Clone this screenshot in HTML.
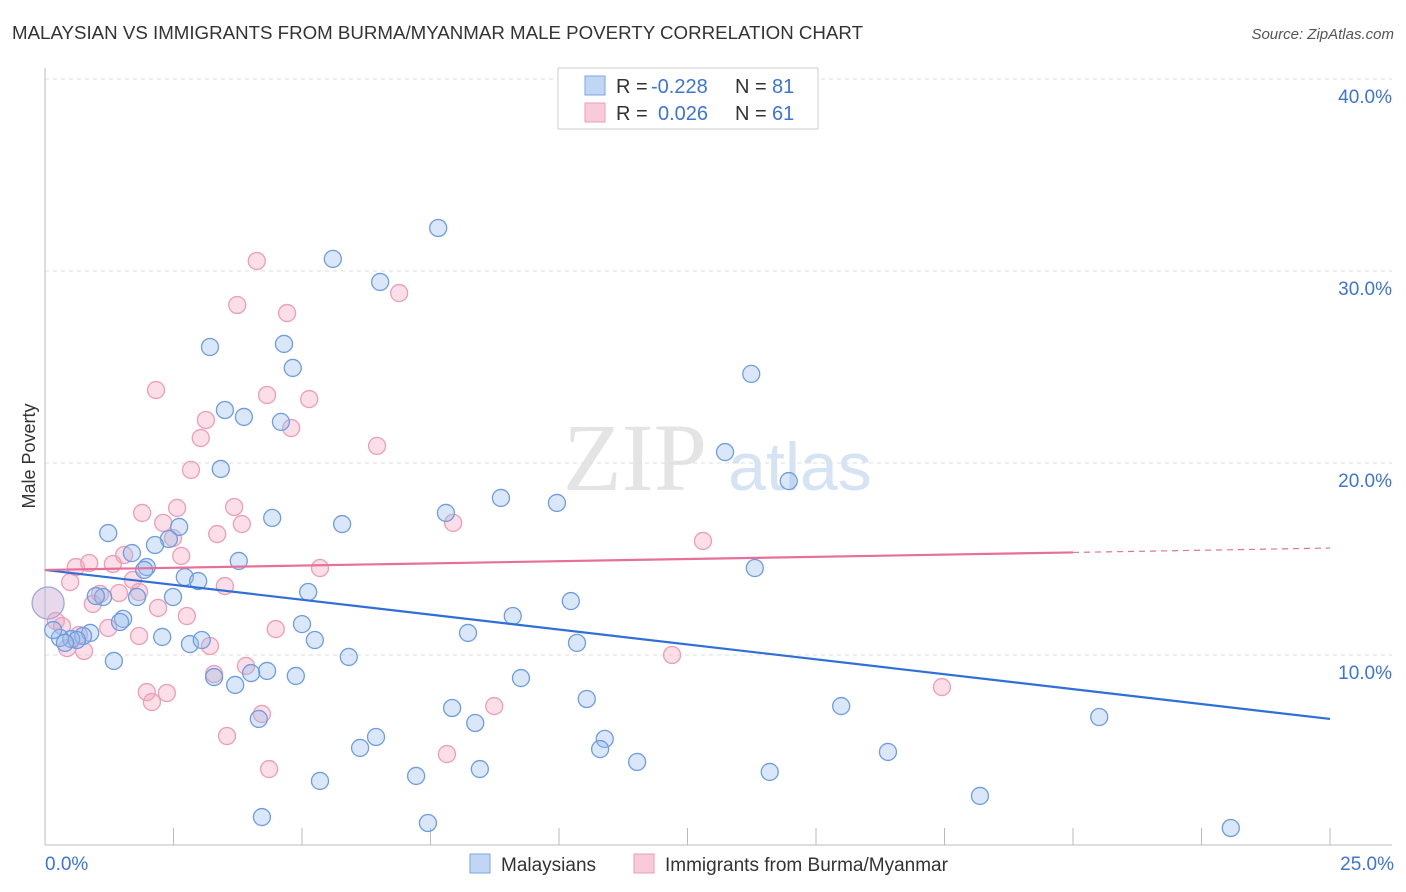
<!DOCTYPE html>
<html><head><meta charset="utf-8"><style>
body{margin:0;background:#fff;font-family:"Liberation Sans",sans-serif}
svg{display:block}
</style></head><body>
<svg id="c" width="1406" height="892" xmlns="http://www.w3.org/2000/svg">
<text x="12" y="39" font-size="18" fill="#333" textLength="851" lengthAdjust="spacingAndGlyphs">MALAYSIAN VS IMMIGRANTS FROM BURMA/MYANMAR MALE POVERTY CORRELATION CHART</text>
<text x="1394" y="39" font-size="15" fill="#555" font-style="italic" text-anchor="end">Source: ZipAtlas.com</text>
<text x="35" y="456" font-size="18" fill="#333" text-anchor="middle" transform="rotate(-90 35 456)">Male Poverty</text>
<text x="635" y="490" font-size="96" fill="#e4e4e4" text-anchor="middle" font-family="Liberation Serif,serif">ZIP</text>
<text x="800" y="490" font-size="68" fill="#d6e3f5" text-anchor="middle">atlas</text>
<g id="grid"></g><g id="pts"></g><g id="trend"></g>
<g>
<rect x="558" y="68" width="260" height="61" fill="#fff" stroke="#ccc"/>
<rect x="585" y="76" width="20" height="19" fill="#c1d6f4" stroke="#7aa6e2"/>
<rect x="585" y="103" width="20" height="19" fill="#f9cad8" stroke="#eb9eb7"/>
<text x="616" y="93" font-size="20" fill="#333">R =</text>
<text x="651" y="93" font-size="20" fill="#3d74d6">-0.228</text>
<text x="735" y="93" font-size="20" fill="#333">N =</text>
<text x="772" y="93" font-size="20" fill="#3d74d6">81</text>
<text x="616" y="120" font-size="20" fill="#333">R =</text>
<text x="658" y="120" font-size="20" fill="#3d74d6">0.026</text>
<text x="735" y="120" font-size="20" fill="#333">N =</text>
<text x="772" y="120" font-size="20" fill="#3d74d6">61</text>
</g>
<g>
<rect x="470" y="854" width="20" height="19" fill="#c1d6f4" stroke="#7aa6e2"/>
<text x="501" y="871" font-size="19" fill="#333">Malaysians</text>
<rect x="634" y="854" width="20" height="19" fill="#f9cad8" stroke="#eb9eb7"/>
<text x="665" y="871" font-size="19" fill="#333">Immigrants from Burma/Myanmar</text>
</g>
</svg>
<script>
const yTicks=[10,20,30,40];
const yTickLabels=["10.0%","20.0%","30.0%","40.0%"];
const xTickLabels=["0.0%","25.0%"];
const blueX=[7.65,5.60,6.52,3.21,4.65,4.82,13.74,3.50,3.87,4.59,13.23,3.42,14.47,8.87,9.96,7.80,4.42,5.78,1.23,2.61,2.41,2.14,1.69,3.77,1.98,1.93,13.81,2.72,2.98,1.79,2.49,5.12,10.23,1.13,0.99,1.52,1.46,5.00,9.10,8.23,0.88,0.74,0.51,0.62,0.29,0.16,0.39,2.28,2.82,3.05,5.25,10.35,1.34,5.91,3.29,4.32,4.01,4.88,3.70,9.26,10.54,15.49,7.92,20.51,8.37,4.16,6.44,6.13,10.89,10.80,16.40,11.52,8.46,7.22,14.10,5.35,18.19,4.22,7.45,23.07];
const blueY=[32.24,30.63,29.43,26.04,26.20,24.95,24.64,22.76,22.40,22.14,20.57,19.69,19.06,18.18,17.92,17.40,17.14,16.82,16.35,16.67,16.04,15.73,15.31,14.90,14.58,14.43,14.53,14.06,13.85,13.02,13.02,13.28,12.81,13.02,13.07,11.88,11.72,11.61,12.03,11.15,11.15,10.99,10.83,10.78,10.89,11.30,10.63,10.94,10.57,10.78,10.78,10.63,9.69,9.90,8.85,9.17,9.06,8.91,8.44,8.80,7.71,7.34,7.24,6.77,6.46,6.67,5.73,5.16,5.63,5.10,4.95,4.43,4.06,3.70,3.91,3.44,2.66,1.56,1.25,0.99];
const pinkX=[4.12,6.89,3.74,4.71,2.16,4.32,5.14,3.13,4.79,3.03,6.46,2.84,2.57,3.68,1.89,7.94,2.30,3.83,3.35,12.80,2.49,1.54,2.65,0.60,0.86,1.32,5.35,1.71,0.49,3.50,1.44,1.07,1.83,0.93,2.20,2.76,0.21,0.33,4.49,1.23,0.66,1.83,3.21,0.76,0.43,12.20,3.91,3.29,17.45,1.98,2.37,2.08,8.74,4.22,3.54,7.82,4.36];
const pinkY=[30.52,28.85,28.23,27.81,23.80,23.54,23.33,22.24,21.82,21.30,20.89,19.64,17.66,17.71,17.40,16.88,16.88,16.82,16.30,15.94,16.09,15.21,15.16,14.58,14.79,14.74,14.53,13.91,13.80,13.59,13.23,13.18,13.28,12.66,12.45,12.03,11.77,11.51,11.35,11.41,11.04,10.99,10.47,10.21,10.36,10.00,9.43,9.01,8.33,8.07,8.02,7.55,7.34,6.93,5.78,4.84,4.06];
const bigX=[0.06], bigY=[12.71];
const blueTrend=[14.43,6.67];
const pinkTrend=[14.43,15.57];
const X=v=>45+v/25*1285, Y=v=>847-v*19.2;
const NS="http://www.w3.org/2000/svg";
function mk(t,a,p){const e=document.createElementNS(NS,t);for(const k in a)e.setAttribute(k,a[k]);p.appendChild(e);return e;}
const g=document.getElementById('grid');
yTicks.forEach((t,i)=>{
 const l=mk('line',{x1:45,x2:1392,y1:Y(t),y2:Y(t),stroke:'#ddd','stroke-dasharray':'4,4'},g);
 
 
 const tx=mk('text',{x:1392,y:Y(t)+24,'font-size':19,fill:'#3d74d6','text-anchor':'end'},g);
 tx.textContent=yTickLabels[i];
 
 
});
const ax=mk('line',{x1:45,x2:45,y1:68,y2:845,stroke:'#bbb'},g);


const bx=mk('line',{x1:45,x2:1392,y1:845,y2:845,stroke:'#bbb'},g);


for(let i=1;i<=10;i++){const v=i*2.5;
 const tk=mk('line',{x1:X(v),x2:X(v),y1:828,y2:845,stroke:'#bbb'},g);
 
 }
[[0,'start',45],[25,'end',1394]].forEach((d,i)=>{
 const t=mk('text',{x:d[2],y:870,'font-size':19,fill:'#3d74d6','text-anchor':d[1]},g);
 t.textContent=xTickLabels[i];
 
 });
const p=document.getElementById('pts');
pinkX.forEach((x,i)=>{const c=mk('circle',{cx:X(x),cy:Y(pinkY[i]),r:8.5,fill:'rgba(244,160,186,0.35)',stroke:'#eb9eb7','stroke-width':1.3},p);
 
 });
blueX.forEach((x,i)=>{const c=mk('circle',{cx:X(x),cy:Y(blueY[i]),r:8.5,fill:'rgba(150,185,235,0.35)',stroke:'#6d9de0','stroke-width':1.3},p);
 
 });
bigX.forEach((x,i)=>{const c=mk('circle',{cx:X(x),cy:Y(bigY[i]),r:16,fill:'rgba(200,170,210,0.45)',stroke:'#9fa6de','stroke-width':1.3},p);
 
 });
const tr=document.getElementById('trend');
const bl=mk('line',{x1:X(0),y1:Y(blueTrend[0]),x2:X(25),y2:Y(blueTrend[1]),stroke:'#2f6fd6','stroke-width':2.2},tr);


const pAt=v=>pinkTrend[0]+(pinkTrend[1]-pinkTrend[0])*v/25;
const pl=mk('line',{x1:X(0),y1:Y(pAt(0)),x2:X(20),y2:Y(pAt(20)),stroke:'#e6709a','stroke-width':2.2},tr);


const pd=mk('line',{x1:X(20),y1:Y(pAt(20)),x2:X(25),y2:Y(pAt(25)),stroke:'#e6709a','stroke-width':1.2,'stroke-dasharray':'6,5'},tr);


</script>
</body></html>
